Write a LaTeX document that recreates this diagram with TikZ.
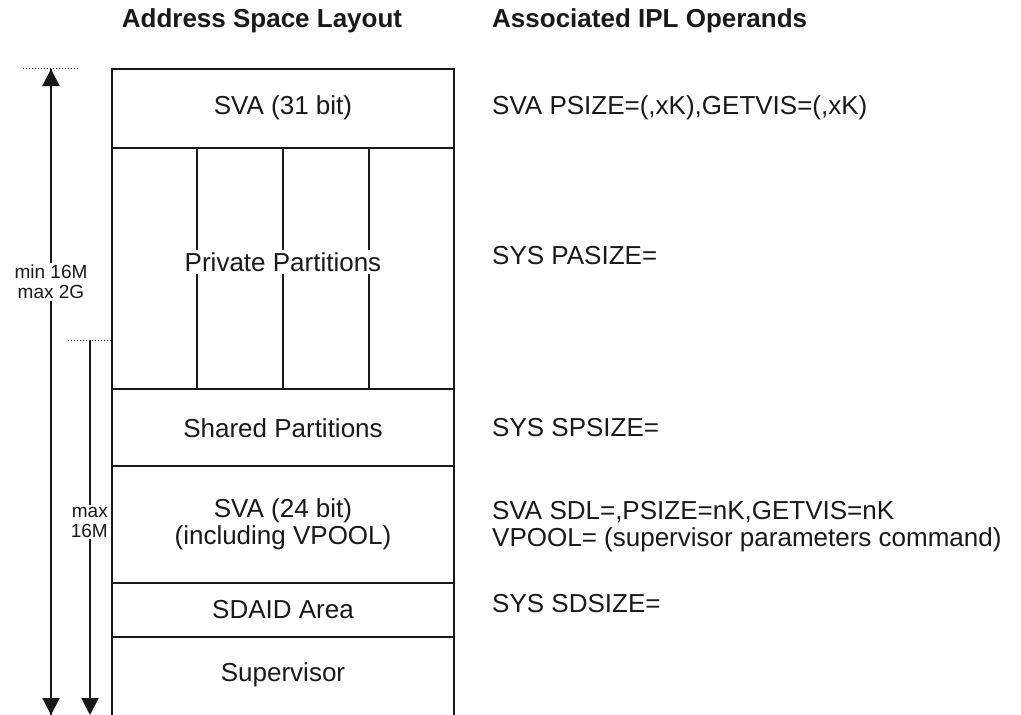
\documentclass[tikz,border=0pt]{standalone}
\usepackage{fontspec}
\setmainfont{Liberation Sans}
\usetikzlibrary{arrows.meta}
\tikzset{
  boxline/.style={line width=2.1pt, draw=black!90},
  maintext/.style={font=\fontsize{26}{27}\selectfont, text=black!90, inner sep=0pt},
  headtext/.style={font=\fontsize{26}{28}\bfseries\selectfont, text=black!90, inner sep=0pt},
  smalltext/.style={font=\fontsize{19}{20}\selectfont, text=black!90, fill=white, inner sep=2pt, align=center},
  dimarrow/.style={line width=2pt, draw=black!90, -{Triangle[width=17pt,length=17pt]}},
  guide/.style={line width=1pt, draw=black!90, dotted},
}
\begin{document}
\begin{tikzpicture}[x=1pt,y=-1pt]
\useasboundingbox (0,0) rectangle (1021,715);
% headings
\node[headtext] (h1) at (262,21) {Address Space Layout};
\node[headtext, anchor=west] (h2) at (492,21) {Associated IPL Operands};
% box
\draw[boxline] (112,716) -- (112,69) -- (454,69) -- (454,716);
\draw[boxline] (112,148) -- (454,148);
\draw[boxline] (112,389) -- (454,389);
\draw[boxline] (112,466) -- (454,466);
\draw[boxline] (112,583) -- (454,583);
\draw[boxline] (112,637) -- (454,637);
\draw[boxline] (197,148) -- (197,389);
\draw[boxline] (283,148) -- (283,389);
\draw[boxline] (369,148) -- (369,389);
% box texts
\node[maintext] (sva31) at (283,108) {SVA (31 bit)};
\node[maintext, fill=white, inner sep=2pt] (priv) at (283,262) {Private Partitions};
\node[maintext] (shared) at (283,428) {Shared Partitions};
\node[maintext, align=center] (sva24) at (283,524) {SVA (24 bit)\\(including VPOOL)};
\node[maintext] (sdaid) at (283,610) {SDAID Area};
\node[maintext] (sup) at (283,675) {Supervisor};
% operand texts
\node[maintext, anchor=west] (op1) at (492,108) {SVA PSIZE=(,xK),GETVIS=(,xK)};
\node[maintext, anchor=west] (op2) at (492,256) {SYS PASIZE=};
\node[maintext, anchor=west] (op3) at (492,428) {SYS SPSIZE=};
\node[maintext, anchor=west, align=left] (op4) at (492,527) {SVA SDL=,PSIZE=nK,GETVIS=nK\\VPOOL= (supervisor parameters command)};
\node[maintext, anchor=west] (op5) at (492,604) {SYS SDSIZE=};
% dimension arrows
\coordinate (a1top) at (51,69);
\coordinate (a1bot) at (51,715);
\coordinate (a2top) at (90,340);
\coordinate (a2bot) at (90,715);
\draw[guide] (23,68) -- (78,68);
\draw[guide] (68,340) -- (112,340);
\draw[dimarrow] (a1bot) -- (a1top);
\draw[dimarrow] (a1top) -- (a1bot);
\draw[dimarrow] (a2top) -- (a2bot);
\node[smalltext] (lab1) at (51,282) {min 16M\\max 2G};
\node[smalltext, align=right, anchor=east, inner xsep=1pt] (lab2) at (109,522) {max\\16M};
\end{tikzpicture}
\end{document}
